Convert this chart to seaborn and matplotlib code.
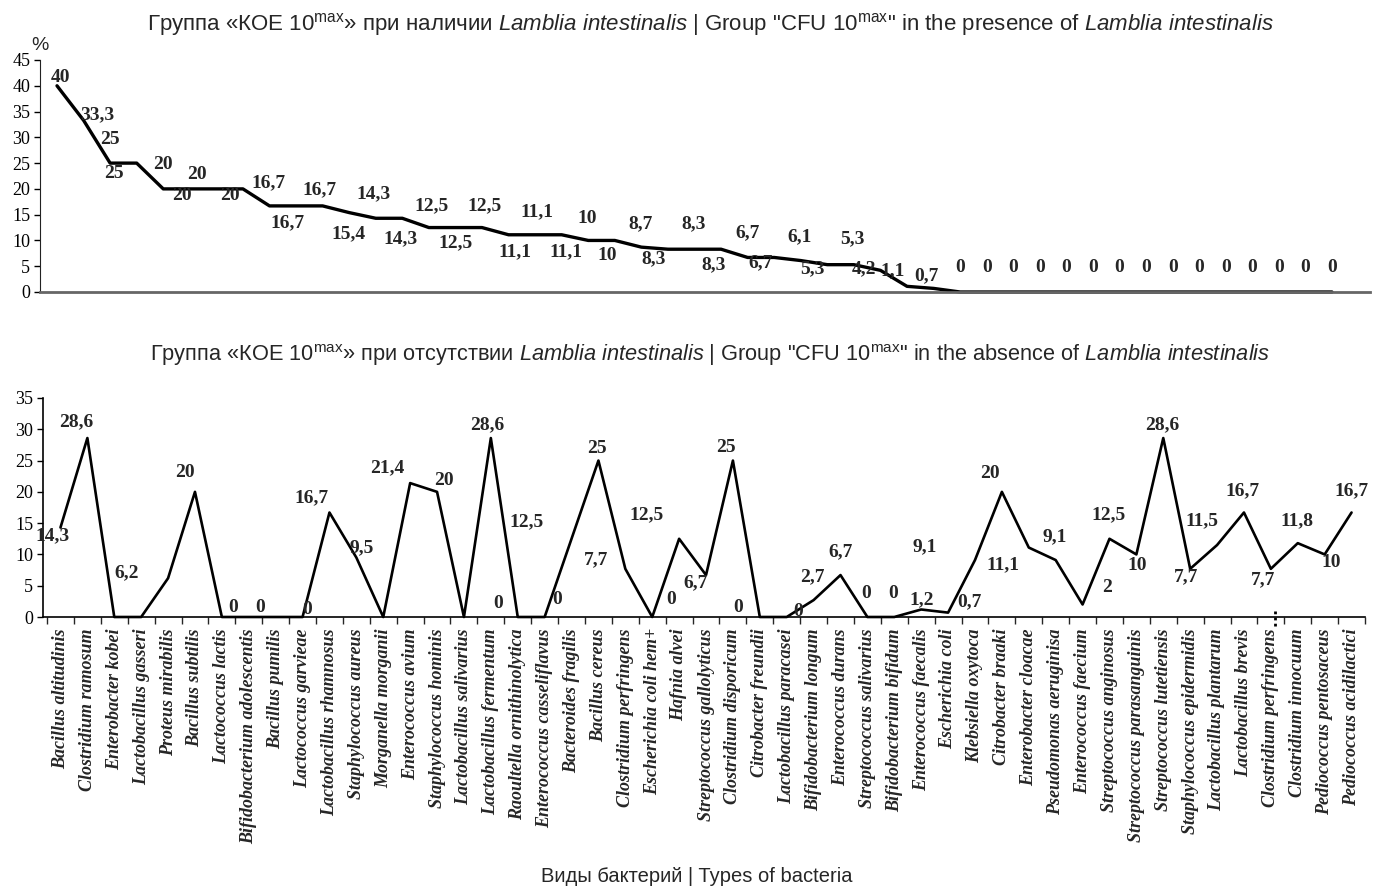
import matplotlib
matplotlib.use("Agg")  # headless backend
import matplotlib.pyplot as plt
import numpy as np
import pandas as pd
import seaborn as sns

# ---- data -------------------------------------------------------------
# upper panel: share of CFU 10^max species, sorted (presence of Lamblia)
top_values = [40, 33.3, 25, 25, 20, 20, 20, 20, 16.7, 16.7, 16.7, 15.4,
              14.3, 14.3, 12.5, 12.5, 12.5, 11.1, 11.1, 11.1, 10, 10,
              8.7, 8.3, 8.3, 8.3, 6.7, 6.7, 6.1, 5.3, 5.3, 4.2, 1.1, 0.7,
              0, 0, 0, 0, 0, 0, 0, 0, 0, 0, 0, 0, 0, 0, 0]

# lower panel: absence of Lamblia, per species
bacteria = [
    "Bacillus altitudinis", "Clostridium ramosum", "Enterobacter kobei",
    "Lactobacillus gasseri", "Proteus mirabilis", "Bacillus subtilis",
    "Lactococcus lactis", "Bifidobacterium adolescentis", "Bacillus pumilis",
    "Lactococcus garvieae", "Lactobacillus rhamnosus", "Staphylococcus aureus",
    "Morganella morganii", "Enterococcus avium", "Staphylococcus hominis",
    "Lactobacillus salivarius", "Lactobacillus fermentum",
    "Raoultella ornithinolytica", "Enterococcus casseliflavus",
    "Bacteroides fragilis", "Bacillus cereus", "Clostridium perfringens",
    "Escherichia coli hem+", "Hafnia alvei", "Streptococcus gallolyticus",
    "Clostridium disporicum", "Citrobacter freundii", "Lactobacillus paracasei",
    "Bifidobacterium longum", "Enterococcus durans", "Streptococcus salivarius",
    "Bifidobacterium bifidum", "Enterococcus faecalis", "Escherichia coli",
    "Klebsiella oxytoca", "Citrobacter braaki", "Enterobacter cloacae",
    "Pseudomonas aeruginisa", "Enterococcus faecium", "Streptococcus anginosus",
    "Streptococcus parasanguinis", "Streptococcus lutetiensis",
    "Staphylococcus epidermidis", "Lactobacillus plantarum",
    "Lactobacillus brevis", "Clostridium perfringens", "Clostridium innocuum",
    "Pediococcus pentosaceus", "Pediococcus acidilactici",
]
bottom_values = [14.3, 28.6, 0, 0, 6.2, 20, 0, 0, 0, 0, 16.7, 9.5, 0, 21.4,
                 20, 0, 28.6, 0, 0, 12.5, 25, 7.7, 0, 12.5, 6.7, 25, 0, 0,
                 2.7, 6.7, 0, 0, 1.2, 0.7, 9.1, 20, 11.1, 9.1, 2, 12.5, 10,
                 28.6, 7.7, 11.5, 16.7, 7.7, 11.8, 10, 16.7]

# data label offsets in pixels (dx, dy downwards); None = no label shown
top_label_offsets = [
    (3, -8), (14, -6), (0, -24), (-23, 10), (0, -24), (-8, 7), (-19, -14),
    (-13, 7), (-1, -23), (-9, 17), (-3, -16), (-1, 21), (-2, -25), (-2, 20),
    (3, -22), (0, 15), (3, -22), (6, 17), (2, -23), (4, 17), (-1, -22),
    (-8, 15), (-1, -23), (-14, 10), (-1, -25), (-8, 16), (0, -25), (-14, 5),
    (-1, -24), (-15, 4), (-2, -26), (-16, -2), (-14, -16), (-7, -13),
] + [(0, -24)] * 15
bottom_label_offsets = [
    (-8, 8), (-11, -16), None, None, (-41, -5), (-10, -19), (11, -9),
    (11, -9), None, (5, -7), (-18, -15), (5, -10), None, (-23, -15),
    (7, -11), None, (-4, -13), (-20, -13), (12, -17), (-45, -17), (-1, -12),
    (-29, -9), (19, -17), (-33, -24), (-10, 8), (-7, -13), (-22, -10),
    (11, -6), (-1, -23), (0, -23), (-1, -24), (-1, -24), (0, -10), (21, -11),
    (-50, -13), (-12, -18), (-26, 17), (-1, -23), (24, -17), (-1, -24),
    (1, 11), (-1, -13), (-4, 8), (-15, -24), (-1, -22), (-8, 11), (-1, -22),
    (7, 8), (0, -22),
]

TITLE_TOP = ("Группа «КОЕ 10$^{\\mathrm{max}}$» при наличии "
             "$\\mathit{Lamblia}$ $\\mathit{intestinalis}$ | Group \"CFU 10$^{\\mathrm{max}}$\" "
             "in the presence of $\\mathit{Lamblia}$ $\\mathit{intestinalis}$")
TITLE_BOTTOM = ("Группа «КОЕ 10$^{\\mathrm{max}}$» при отсутствии "
                "$\\mathit{Lamblia}$ $\\mathit{intestinalis}$ | Group \"CFU 10$^{\\mathrm{max}}$\" "
                "in the absence of $\\mathit{Lamblia}$ $\\mathit{intestinalis}$")
XLABEL = "Виды бактерий | Types of bacteria"

SERIF = "Liberation Serif"
SANS = "Liberation Sans"

sns.set_style("ticks")
plt.rcParams["font.family"] = [SANS, "DejaVu Sans"]
plt.rcParams["mathtext.fontset"] = "custom"
plt.rcParams["mathtext.rm"] = SANS
plt.rcParams["mathtext.it"] = SANS + ":italic"


def fmt(v):
    return f"{v:g}".replace(".", ",")


def add_labels(ax, values, offsets):
    for x, (v, off) in enumerate(zip(values, offsets)):
        if off is None:
            continue
        ax.annotate(fmt(v), (x, v), xytext=(off[0], -off[1]),
                    textcoords="offset pixels", ha="center", va="center",
                    fontsize=14, fontweight="bold", family=SERIF,
                    annotation_clip=False)


def style_yaxis(ax, top):
    ax.set_ylim(0, top)
    ax.set_yticks(np.arange(0, top + 1, 5))
    ax.tick_params(axis="y", direction="out", length=4, width=1,
                   labelsize=13, pad=3, colors="black")
    for lab in ax.get_yticklabels():
        lab.set_family(SERIF)
    ax.set_xlabel("")
    ax.set_ylabel("")
    sns.despine(ax=ax)


fig = plt.figure(figsize=(13.83, 8.9), dpi=100)

# ---- upper panel ----
ax1 = fig.add_axes([40 / 1383, 598 / 890, 1330 / 1383, 232 / 890])
df_top = pd.DataFrame({"pos": np.arange(len(top_values)), "value": top_values})
sns.lineplot(data=df_top, x="pos", y="value", ax=ax1, color="black",
             linewidth=2.4, estimator=None)
ax1.lines[-1].set_clip_on(False)
ax1.set_xlim(-0.64, len(top_values) + 0.43)
ax1.set_xticks([])
style_yaxis(ax1, 45)
ax1.spines["left"].set_color("#222222")
ax1.spines["bottom"].set_color("#666666")
ax1.spines["bottom"].set_linewidth(2)
add_labels(ax1, top_values, top_label_offsets)

# ---- lower panel ----
ax2 = fig.add_axes([43 / 1383, 273 / 890, 1322 / 1383, 219 / 890])
df_bot = pd.DataFrame({"pos": np.arange(len(bacteria)), "bacteria": bacteria,
                       "value": bottom_values})
sns.lineplot(data=df_bot, x="pos", y="value", ax=ax2, color="black",
             linewidth=1.9, estimator=None)
ax2.lines[-1].set_clip_on(False)
n = len(bacteria)
ax2.set_xlim(-0.65, n - 0.5)
ax2.set_xticks(np.arange(n))
ax2.set_xticklabels(df_bot["bacteria"], rotation=90, fontsize=13,
                    fontweight="bold", fontstyle="italic", family=SERIF)
ax2.set_xticks(np.arange(n + 1) - 0.5, minor=True)
ax2.tick_params(axis="x", which="major", length=0, pad=8)
ax2.tick_params(axis="x", which="minor", direction="out", length=5, width=1)
style_yaxis(ax2, 35)
for s in ("left", "bottom"):
    ax2.spines[s].set_color("black")
    ax2.spines[s].set_linewidth(1.2)
add_labels(ax2, bottom_values, bottom_label_offsets)
# small dotted mark next to the second Clostridium perfringens tick
ax2.axvline(45.15, ymin=-0.04, ymax=0.04, color="black", lw=2,
            ls=(0, (1, 1.2)), clip_on=False)

# ---- texts ----
fig.text(710 / 1383, 1 - 25 / 890, TITLE_TOP, ha="center", va="center",
         fontsize=16)
fig.text(710 / 1383, 1 - 355 / 890, TITLE_BOTTOM, ha="center", va="center",
         fontsize=15.7)
fig.text(697 / 1383, 1 - 877 / 890, XLABEL, ha="center", va="center",
         fontsize=14.5)
fig.text(40 / 1383, 1 - 45 / 890, "%", ha="center", va="center", fontsize=14)

fig.savefig("out.png", dpi=100)
